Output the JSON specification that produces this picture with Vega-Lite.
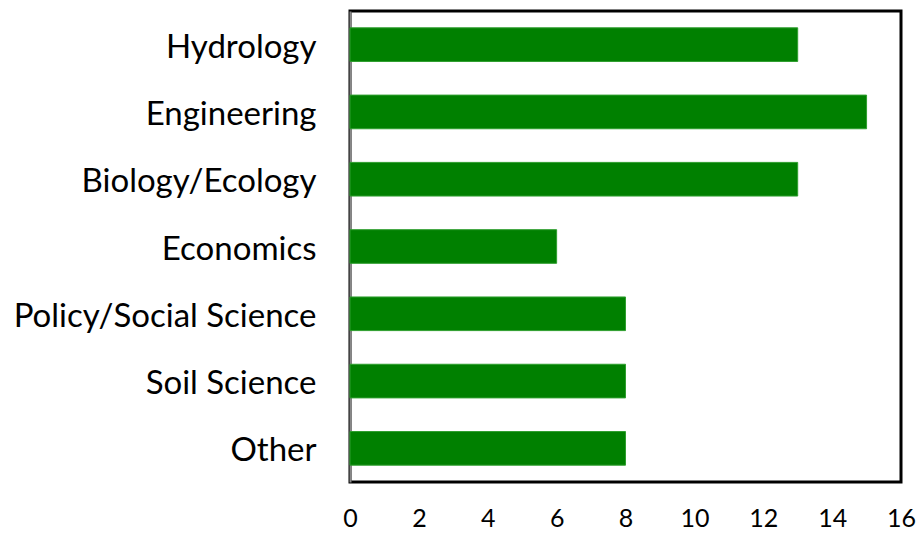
{
  "$schema": "https://vega.github.io/schema/vega-lite/v6.json",
  "autosize": {"type": "none"},
  "padding": {"left": 350, "top": 11, "right": 17, "bottom": 51},
  "width": 551,
  "height": 471,
  "background": "white",
  "data": {
    "values": [
      {"field": "Hydrology", "count": 13},
      {"field": "Engineering", "count": 15},
      {"field": "Biology/Ecology", "count": 13},
      {"field": "Economics", "count": 6},
      {"field": "Policy/Social Science", "count": 8},
      {"field": "Soil Science", "count": 8},
      {"field": "Other", "count": 8}
    ]
  },
  "mark": {"type": "bar", "color": "#008000", "stroke": "#2e9e2e", "strokeWidth": 1},
  "encoding": {
    "y": {
      "field": "field",
      "type": "nominal",
      "sort": null,
      "scale": {"paddingInner": 0.5, "paddingOuter": 0.25},
      "axis": {
        "title": null,
        "ticks": false,
        "domain": true,
        "domainColor": "#888888",
        "domainWidth": 2,
        "labelFont": "Lato",
        "labelFontSize": 33,
        "labelColor": "#000000",
        "labelPadding": 34,
        "labelOffset": 3,
        "labelLimit": 400,
        "grid": false
      }
    },
    "x": {
      "field": "count",
      "type": "quantitative",
      "scale": {"domain": [0, 16], "nice": false},
      "axis": {
        "title": null,
        "values": [0, 2, 4, 6, 8, 10, 12, 14, 16],
        "ticks": false,
        "domain": false,
        "grid": false,
        "labelFont": "Lato",
        "labelFontSize": 25,
        "labelColor": "#000000",
        "labelPadding": 24,
        "labelFlush": false
      }
    }
  },
  "config": {
    "view": {"stroke": "#000000", "strokeWidth": 3}
  }
}
